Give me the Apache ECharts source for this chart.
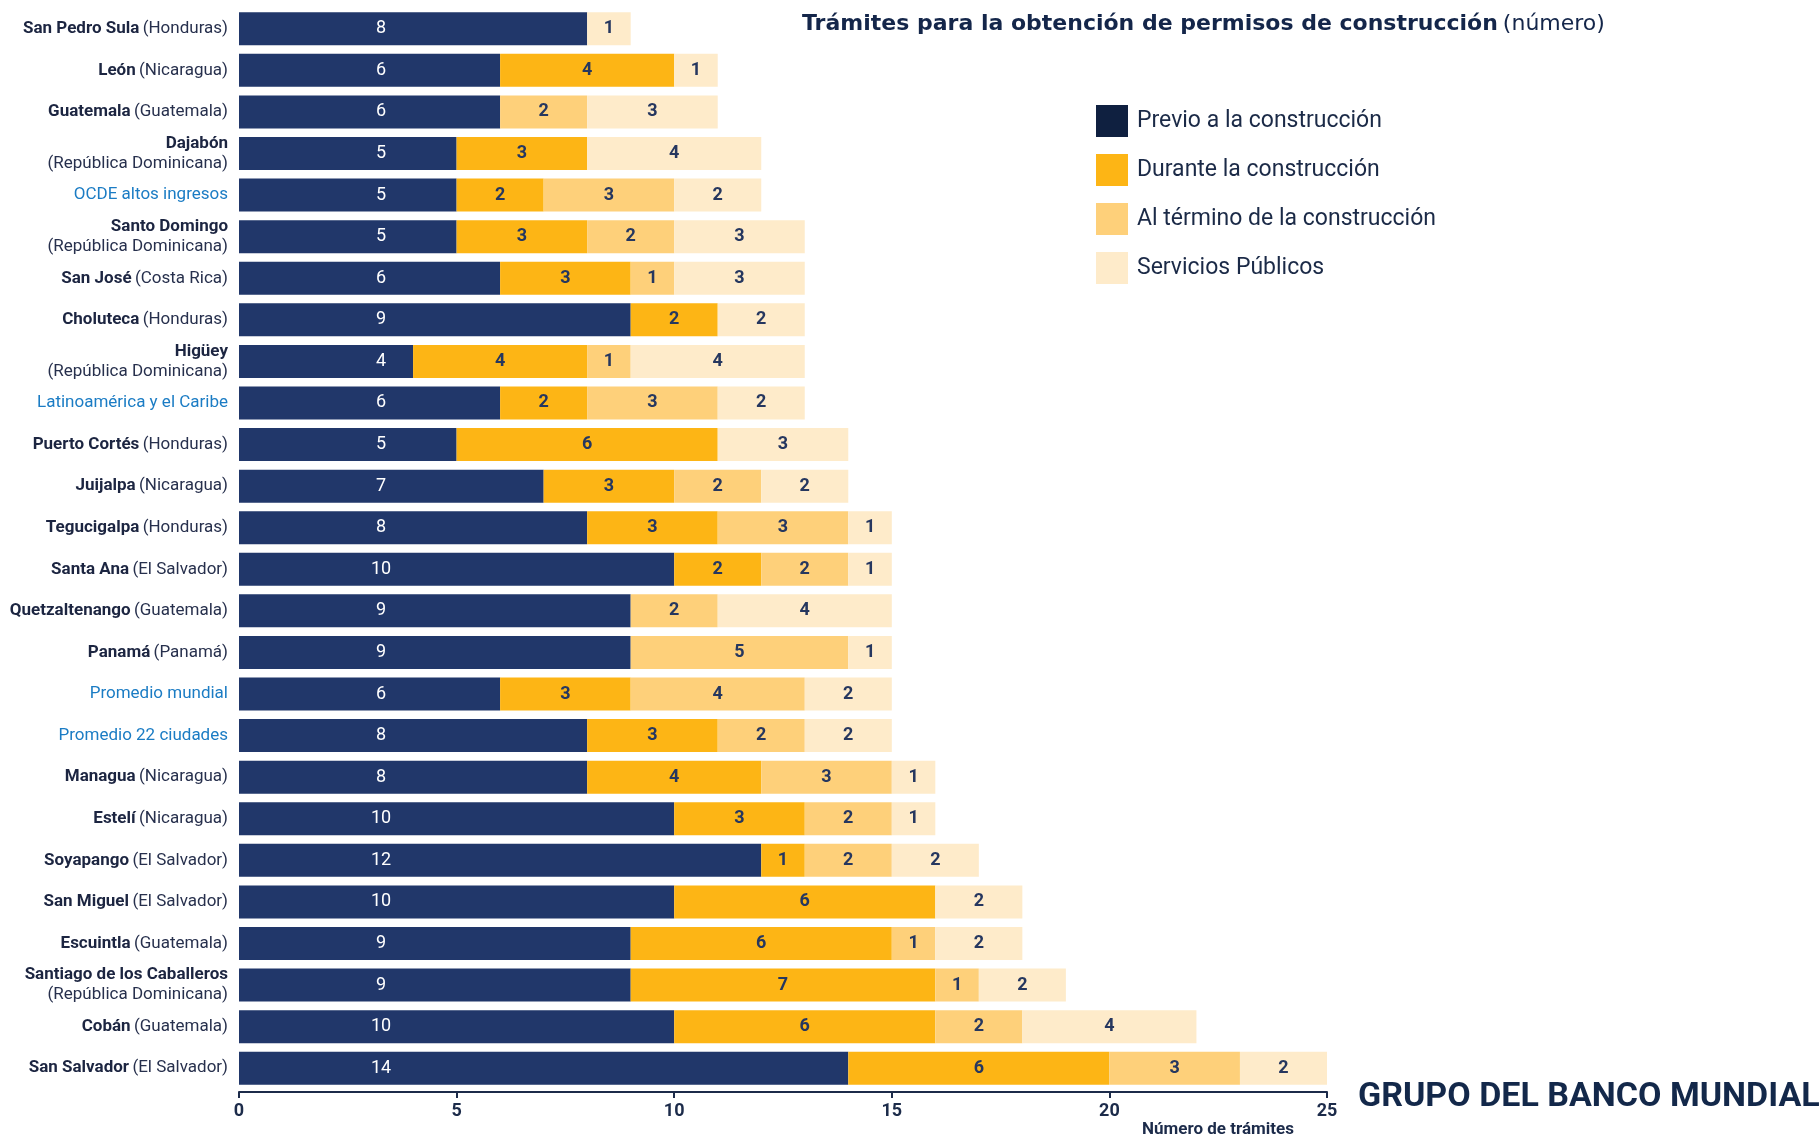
<!DOCTYPE html>
<html>
<head>
<meta charset="utf-8">
<script src="https://cdn.jsdelivr.net/npm/echarts@6/dist/echarts.min.js"></script>
<style>
  html, body { margin: 0; padding: 0; background: #fff; }
  #chart { width: 1820px; height: 1138px; }
</style>
</head>
<body>
<div id="chart"></div>
<script>
// categorias de arriba hacia abajo
const ciudades = [
  "San Pedro Sula (Honduras)",
  "León (Nicaragua)",
  "Guatemala (Guatemala)",
  "Dajabón (República Dominicana)",
  "OCDE altos ingresos",
  "Santo Domingo (República Dominicana)",
  "San José (Costa Rica)",
  "Choluteca (Honduras)",
  "Higüey (República Dominicana)",
  "Latinoamérica y el Caribe",
  "Puerto Cortés (Honduras)",
  "Juijalpa (Nicaragua)",
  "Tegucigalpa (Honduras)",
  "Santa Ana (El Salvador)",
  "Quetzaltenango (Guatemala)",
  "Panamá (Panamá)",
  "Promedio mundial",
  "Promedio 22 ciudades",
  "Managua (Nicaragua)",
  "Estelí (Nicaragua)",
  "Soyapango (El Salvador)",
  "San Miguel (El Salvador)",
  "Escuintla (Guatemala)",
  "Santiago de los Caballeros (República Dominicana)",
  "Cobán (Guatemala)",
  "San Salvador (El Salvador)"
];
const previo    = [8, 6, 6, 5, 5, 5, 6, 9, 4, 6, 5, 7, 8, 10, 9, 9, 6, 8, 8, 10, 12, 10, 9, 9, 10, 14];
const durante   = [0, 4, 0, 3, 2, 3, 3, 2, 4, 2, 6, 3, 3, 2, 0, 0, 3, 3, 4, 3, 1, 6, 6, 7, 6, 6];
const termino   = [0, 0, 2, 0, 3, 2, 1, 0, 1, 3, 0, 2, 3, 2, 2, 5, 4, 2, 3, 2, 2, 0, 1, 1, 2, 3];
const servicios = [1, 1, 3, 4, 2, 3, 3, 2, 4, 2, 3, 2, 1, 1, 4, 1, 2, 2, 1, 1, 2, 2, 2, 2, 4, 2];
const xTicks = [0, 5, 10, 15, 20, 25];

const NARROW = "'Roboto', sans-serif";
const NAVY = "#1c2541";

const chart = echarts.init(document.getElementById("chart"));

function catLabel(v) {
  const m = v.match(/^(.*?) \((.*)\)$/);
  if (!m) return "{blue|" + v + "}";
  if (m[2] === "República Dominicana") return "{b|" + m[1] + "}\n{n|(" + m[2] + ")}";
  return "{b|" + m[1] + "} {n|(" + m[2] + ")}";
}

function hideZero(p) {
  return p.value ? String(p.value) : "";
}

const segLabel = {
  show: true,
  position: "inside",
  formatter: hideZero,
  color: "#26375f",
  fontFamily: NARROW,
  fontWeight: "bold",
  fontSize: 18
};

const option = {
  animation: false,
  title: {
    text: "{b|Trámites para la obtención de permisos de construcción} {n|(número)}",
    left: 797,
    top: 8,
    textStyle: {
      fontWeight: "normal",
      rich: {
        b: { fontFamily: "'DejaVu Sans', sans-serif", fontSize: 22, fontWeight: "bold", color: "#14264a" },
        n: { fontFamily: "'DejaVu Sans', sans-serif", fontSize: 22, fontWeight: "normal", color: "#14264a" }
      }
    }
  },
  legend: {
    orient: "vertical",
    left: 1091,
    top: 100,
    itemWidth: 32,
    itemHeight: 32,
    itemGap: 17,
    icon: "rect",
    textStyle: { fontFamily: NARROW, fontSize: 23, color: "#1b2a47", padding: [0, 0, 0, 4] },
    data: [
      { name: "Previo a la construcción", itemStyle: { color: "#0f2040" } },
      { name: "Durante la construcción" },
      { name: "Al término de la construcción" },
      { name: "Servicios Públicos" }
    ]
  },
  grid: { left: 239, right: 493, top: 8, height: 1081, outerBoundsMode: "none" },
  xAxis: {
    type: "value",
    min: 0,
    max: 25,
    interval: 5,
    offset: 3,
    splitLine: { show: false },
    axisLine: { show: true, lineStyle: { color: "#1c2b4a", width: 2 } },
    axisTick: { show: true, length: 6, lineStyle: { color: "#1c2b4a", width: 2 } },
    axisLabel: {
      margin: 10,
      fontFamily: NARROW,
      fontWeight: "bold",
      fontSize: 18,
      color: "#1c2b4a",
      formatter: v => (xTicks.includes(v) ? String(v) : "")
    }
  },
  yAxis: {
    type: "category",
    inverse: true,
    data: ciudades,
    axisLine: { show: false },
    axisTick: { show: false },
    axisLabel: {
      margin: 11,
      formatter: catLabel,
      rich: {
        b: { fontFamily: NARROW, fontSize: 17, fontWeight: "bold", color: NAVY, lineHeight: 20 },
        n: { fontFamily: NARROW, fontSize: 17, color: "#27304d", lineHeight: 20 },
        blue: { fontFamily: NARROW, fontSize: 17, color: "#1b7cc4" }
      }
    }
  },
  series: [
    {
      name: "Previo a la construcción",
      type: "bar",
      stack: "t",
      barWidth: 33,
      data: previo,
      itemStyle: { color: "#21376a" },
      label: Object.assign({}, segLabel, {
        position: [142, "50%"],
        align: "center",
        verticalAlign: "middle",
        color: "#ffffff",
        fontWeight: "normal"
      })
    },
    {
      name: "Durante la construcción",
      type: "bar",
      stack: "t",
      data: durante,
      itemStyle: { color: "#fdb515" },
      label: segLabel
    },
    {
      name: "Al término de la construcción",
      type: "bar",
      stack: "t",
      data: termino,
      itemStyle: { color: "#fed07a" },
      label: segLabel
    },
    {
      name: "Servicios Públicos",
      type: "bar",
      stack: "t",
      data: servicios,
      itemStyle: { color: "#feebca" },
      label: segLabel
    }
  ],
  graphic: [
    {
      type: "text",
      left: 1142,
      top: 1121,
      style: {
        text: "Número de trámites",
        font: "bold 17px " + NARROW,
        fill: "#1c2b4a"
      }
    },
    {
      type: "text",
      left: 1358,
      top: 1080,
      style: {
        text: "GRUPO DEL BANCO MUNDIAL",
        font: "bold 34px 'Roboto', sans-serif",
        fill: "#13284a"
      }
    }
  ]
};

chart.setOption(option);
</script>
</body>
</html>
